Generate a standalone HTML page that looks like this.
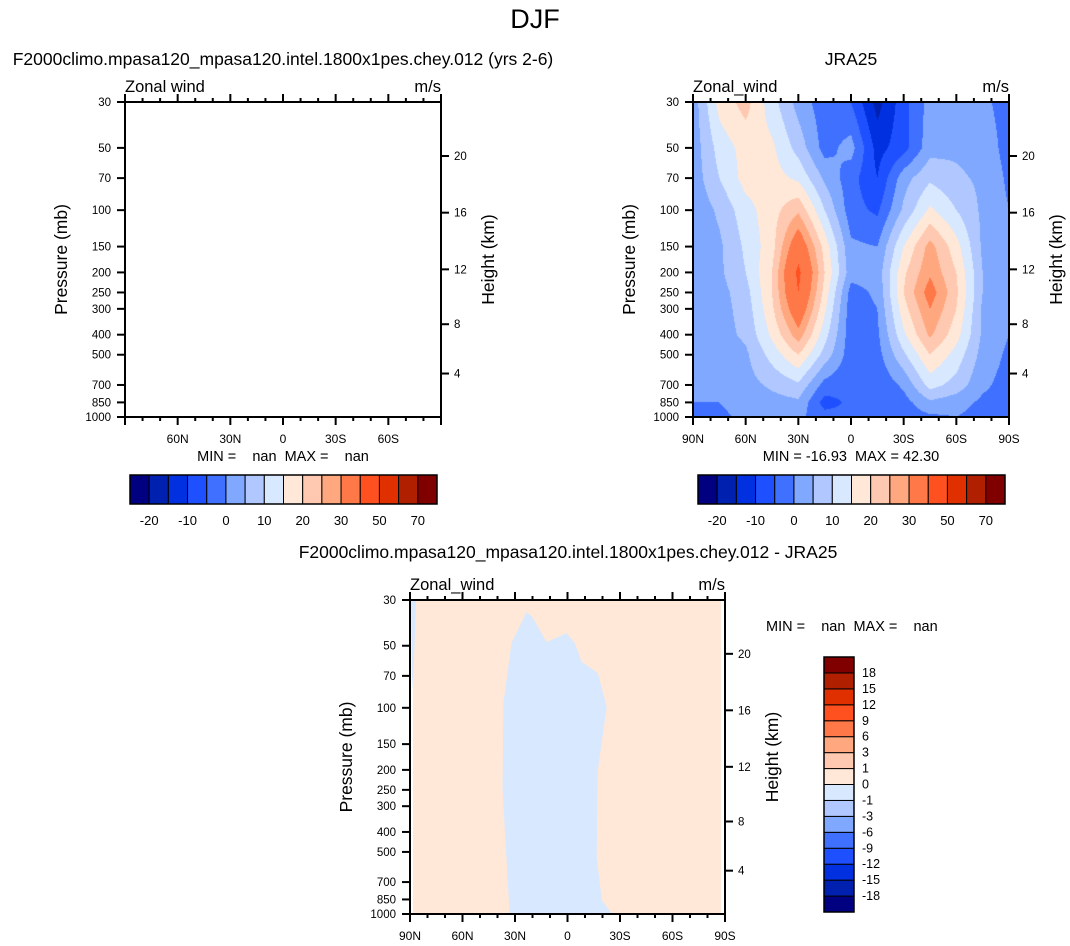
<!DOCTYPE html>
<html><head><meta charset="utf-8">
<style>
html,body{margin:0;padding:0;background:#fff;}
body{width:1070px;height:946px;position:relative;overflow:hidden;font-family:"Liberation Sans",Arial,sans-serif;}
svg{position:absolute;left:0;top:0;}
canvas{position:absolute;}
text{white-space:pre;}
</style></head>
<body>
<canvas id="cv" width="316" height="315" style="left:693px;top:102px"></canvas>
<svg id="sv" width="1070" height="946"></svg>
<script>
// ---- data ----
const lats = [90,75,60,45,30,15,0,-15,-30,-45,-60,-75,-90];
const levels = [30,50,70,100,150,200,250,300,400,500,700,850,1000];
const uRow30  = [2,17,22,12,3,-3,-5,-17,-7,2,3,1,-2];
const uRow50  = [2,12,17,16,8,-2,2,-12,-7,3,4,3,-2];
const uRow70  = [2,10,17,17,14,4,-3,-10,3,9,6,4,-1];
const uRow100 = [1,6,13,18,24,10,-3,-6,6,16,10,4,0];
const uRow150 = [1,4,11,18,36,18,1,0,15,27,17,4,0];
const uRow200 = [1,4,10,20,42,20,2,2,19,29,20,5,0];
const uRow250 = [1,3,8,20,40,18,-2,1,20,33,21,5,0];
const uRow300 = [1,3,7,19,36,16,-3,0,18,30,20,4,0];
const uRow400 = [1,3,6,16,28,12,-3,-1,14,26,17,4,0];
const uRow500 = [1,2,4,12,20,8,-3,-2,9,20,13,3,-1];
const uRow700 = [0,1,3,6,9,-2,-4,-4,1,12,8,1,-2];
const uRow850 = [0,0,2,3,4,-7,-4,-4,-2,4,2,-1,-2];
const uRow1000= [-2,-1,1,2,1,-3,-4,-3,-3,-1,0,-2,-3];
const windRows = [uRow30,uRow50,uRow70,uRow100,uRow150,uRow200,uRow250,uRow300,uRow400,uRow500,uRow700,uRow850,uRow1000];
const cbLevels = [-20,-15,-10,-5,0,5,10,15,20,25,30,40,50,60,70];
const cbLabels = ["-20","-10","0","10","20","30","50","70"];
const diffLevels = [-18,-15,-12,-9,-6,-3,-1,0,1,3,6,9,12,15,18];
const diffBoundLat = [33.1,37.1,36.6,32.0,23.4,20.0,12.0,0.5,-4.1,-8.1,-17.3,-22.4,-17.3,-16.7,-19.6,-25.4];
const diffBoundP   = [1000,250,94.8,48.5,34.3,36.3,48.0,43.4,48.5,59.9,67.8,99,200,529,855,1000];
const pTicks = [30,50,70,100,150,200,250,300,400,500,700,850,1000];
const zTicks = [4,8,12,16,20];
const latTicks = [90,60,30,0,-30,-60,-90];
const colors = ["#000080","#0020b0","#0030e0","#1f50ff","#4070ff","#80a8ff","#b0c8ff","#d8e8ff","#ffe8d8","#ffc8b0","#ffa880","#ff7848","#ff5020","#e03000","#b02000","#800000"];

const NS="http://www.w3.org/2000/svg";
const sv=document.getElementById('sv');
function el(tag,attrs,parent){const e=document.createElementNS(NS,tag);for(const k in attrs)e.setAttribute(k,attrs[k]);(parent||sv).appendChild(e);return e;}
function txt(s,x,y,size,anchor,parent,extra){const t=el('text',Object.assign({x:x,y:y,'font-size':size,'text-anchor':anchor||'middle',fill:'#000','font-family':'Liberation Sans, Arial, sans-serif'},extra||{}),parent);t.textContent=s;return t;}

function yP(top,H,p){return top+Math.log(p/30)/Math.log(1000/30)*H;}
function xLat(left,W,lat){return left+(90-lat)/180*W;}
function pOfZ(z){return z<11?1013.25*Math.pow(1-z/44.33,5.256):226.3*Math.exp(-(z-11)/6.34);}
function latLabel(l){return l===0?"0":(Math.abs(l)+(l>0?"N":"S"));}

function panel(name,left,top,W,H,showEnds,leftTitle){
  const g=el('g',{});
  
  
  const r=el('rect',{x:left,y:top,width:W,height:H,fill:'none',stroke:'#000','stroke-width':2},g);
  
  for(let l=90;l>=-90;l-=10){
    const x=xLat(left,W,l);const major=(l%30===0);const len=major?8:4;
    el('line',{x1:x,y1:top+H,x2:x,y2:top+H+len,stroke:'#000','stroke-width':2},g);
    el('line',{x1:x,y1:top,x2:x,y2:top-len,stroke:'#000','stroke-width':2},g);
  }
  const lg=el('g',{},g);
  latTicks.forEach(l=>{ if(!showEnds&&Math.abs(l)===90)return; txt(latLabel(l),xLat(left,W,l),top+H+26,12,'middle',lg);});
  const pg=el('g',{},g);
  pTicks.forEach(p=>{const y=yP(top,H,p);el('line',{x1:left,y1:y,x2:left-8,y2:y,stroke:'#000','stroke-width':2},g);txt(String(p),left-14,y+4,11.5,'end',pg);});
  const zg=el('g',{},g);
  zTicks.forEach(z=>{const y=yP(top,H,pOfZ(z));el('line',{x1:left+W,y1:y,x2:left+W+8,y2:y,stroke:'#000','stroke-width':2},g);txt(String(z),left+W+13,y+4,11.5,'start',zg);});
  const yt=txt('Pressure (mb)',0,0,17.5,'middle',g,{transform:`translate(${left-58},${top+H/2}) rotate(-90)`});
  
  const ht=txt('Height (km)',0,0,17.5,'middle',g,{transform:`translate(${left+W+53},${top+H/2}) rotate(-90)`});
  
  const lt=txt(leftTitle,left,top-10,16.5,'start',g);
  const ut=txt('m/s',left+W,top-10,16.5,'end',g);
  return g;
}

function colorbarH(name,x0,y0,w,h){
  const g=el('g',{});
  const bw=w/colors.length;
  colors.forEach((c,i)=>{const r=el('rect',{x:x0+i*bw,y:y0,width:bw,height:h,fill:c,stroke:'#000','stroke-width':1},g);});
  el('rect',{x:x0,y:y0,width:w,height:h,fill:'none',stroke:'#000','stroke-width':1.5},g);
  cbLabels.forEach((s,k)=>{const i=1+2*k;txt(s,x0+i*bw,y0+h+21,13,'middle',g);});
}

const t0=txt('DJF',535,28,27,'middle');
const t1=txt('F2000climo.mpasa120_mpasa120.intel.1800x1pes.chey.012 (yrs 2-6)',283,65,17.5);
const t2=txt('JRA25',851,65,17.5);
const t3=txt('F2000climo.mpasa120_mpasa120.intel.1800x1pes.chey.012 - JRA25',568,558,17.5);

(function(){
  const L=410,T=600,W=315,H=314;
  const bg=el('rect',{x:L+3,y:T,width:W-7,height:H,fill:'#ffe8d8'});
  
  const sl=el('path',{d:`M${L+1},${T} L${L+6},${T} L${L+4},${T+60} L${L+2},${T+90} Z`,fill:'#d8e8ff'});
  
  let d='';
  diffBoundLat.forEach((la,i)=>{d+=(i?'L':'M')+xLat(L,W,la).toFixed(1)+','+yP(T,H,diffBoundP[i]).toFixed(1)+' ';});
  const pa=el('path',{d:d+'Z',fill:'#d8e8ff'});
  
  panel('diff-panel',L,T,W,H,true,'Zonal_wind');
})();
panel('model-panel',125,102,316,315,false,'Zonal wind');
panel('jra25-panel',693,102,316,315,true,'Zonal_wind');

const m1=txt('MIN =    nan  MAX =    nan',283,461,14.5,'middle');
const m2=txt('MIN = -16.93  MAX = 42.30',851,461,14.5,'middle');
const m3=txt('MIN =    nan  MAX =    nan',766,631,14.5,'start');

colorbarH('model-colorbar',130,475,307,29);
colorbarH('jra25-colorbar',698,475,307,29);

(function(){
  const g=el('g',{});
  const x0=824,y0=657,w=30,h=255,bh=h/colors.length;
  colors.forEach((c,i)=>{const r=el('rect',{x:x0,y:y0+h-(i+1)*bh,width:w,height:bh,fill:c,stroke:'#000','stroke-width':1},g);});
  el('rect',{x:x0,y:y0,width:w,height:h,fill:'none',stroke:'#000','stroke-width':1.5},g);
  diffLevels.forEach((v,i)=>{txt(String(v),x0+w+8,y0+h-(i+1)*bh+4,12.5,'start',g);});
})();

(function(){
  const cv=document.getElementById('cv');const ctx=cv.getContext('2d');
  const W=cv.width,H=cv.height;const img=ctx.createImageData(W,H);
  const lnTop=Math.log(30),lnSpan=Math.log(1000/30);
  const lnLev=levels.map(p=>Math.log(p));
  const rgb=colors.map(c=>[parseInt(c.substr(1,2),16),parseInt(c.substr(3,2),16),parseInt(c.substr(5,2),16)]);
  for(let py=0;py<H;py++){
    const lp=lnTop+(py+0.5)/H*lnSpan;
    let r=0;while(r<levels.length-2&&lnLev[r+1]<lp)r++;
    let fy=(lp-lnLev[r])/(lnLev[r+1]-lnLev[r]);fy=Math.max(0,Math.min(1,fy));
    for(let px=0;px<W;px++){
      const lat=90-(px+0.5)/W*180;
      let fi=(90-lat)/15;let c=Math.min(lats.length-2,Math.floor(fi));let fx=fi-c;
      const a=windRows[r][c],b=windRows[r][c+1],cc=windRows[r+1][c],dd=windRows[r+1][c+1];
      const v=(a*(1-fx)+b*fx)*(1-fy)+(cc*(1-fx)+dd*fx)*fy;
      let k=0;while(k<cbLevels.length&&v>=cbLevels[k])k++;
      const col=rgb[k];const o=(py*W+px)*4;
      img.data[o]=col[0];img.data[o+1]=col[1];img.data[o+2]=col[2];img.data[o+3]=255;
    }
  }
  ctx.putImageData(img,0,0);
})();
</script>
</body></html>
